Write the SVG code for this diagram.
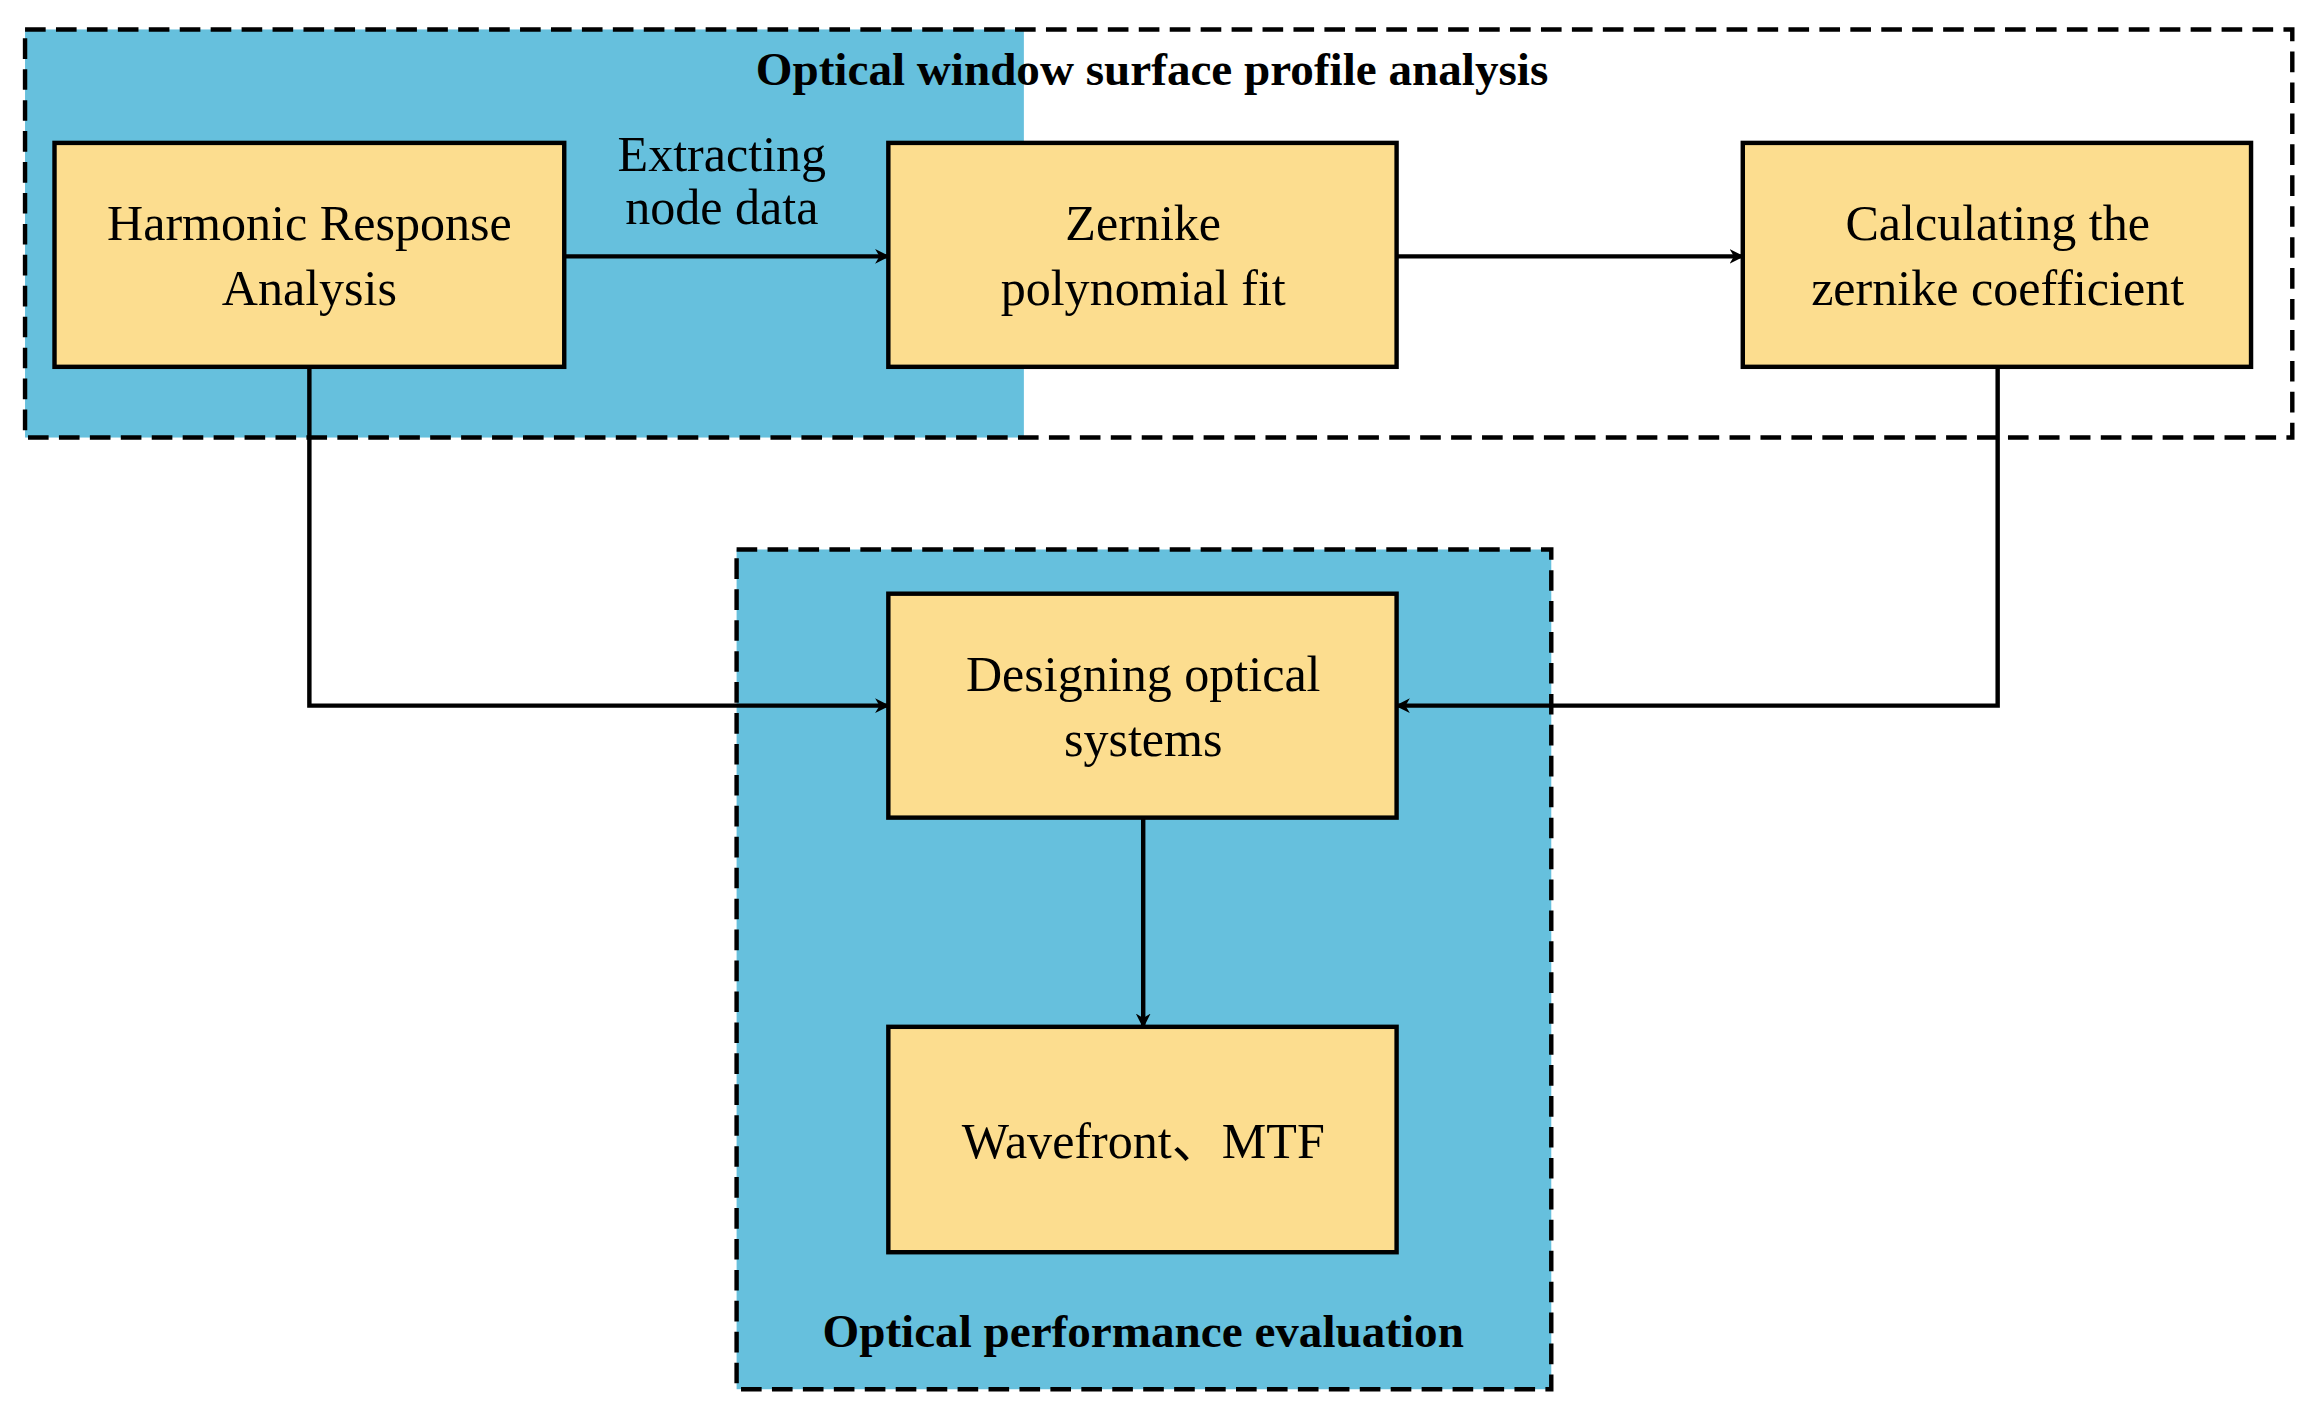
<svg xmlns="http://www.w3.org/2000/svg" width="2310" height="1408" viewBox="0 0 2310 1408">
<defs>
<marker id="ah" markerWidth="10" markerHeight="10" refX="9" refY="5" orient="auto" markerUnits="userSpaceOnUse" viewBox="0 0 10 10"><path d="M0,0 L10,5 L0,10 L3,5 Z" fill="#000"/></marker>
<style>
.box{fill:#FCDD8F;stroke:#000;stroke-width:3}
.grp{stroke:#000;stroke-width:3;stroke-dasharray:14,7}
.t{font-family:"Liberation Serif",serif;font-size:34px;text-anchor:middle;fill:#000}
.h{font-family:"Liberation Serif",serif;font-size:32px;font-weight:bold;text-anchor:middle;fill:#000}
.c{fill:none;stroke:#000;stroke-width:3;marker-end:url(#ah)}
</style>
</defs>
<rect width="2310" height="1408" fill="#fff"/>
<g transform="scale(1.4732)">
<g id="group-top">
<rect x="17" y="20" width="678" height="277" fill="#66C0DD"/>
<rect class="grp" x="17" y="20" width="1539" height="277" fill="none"/>
<text class="h" x="782" y="58">Optical window surface profile analysis</text>
</g>
<g id="group-bottom">
<rect class="grp" x="500" y="373" width="553" height="570" fill="#66C0DD"/>
<text class="h" x="776" y="914">Optical performance evaluation</text>
</g>
<g id="connectors">
<line class="c" x1="383" y1="174" x2="603" y2="174"/>
<line class="c" x1="948" y1="174" x2="1183" y2="174"/>
<polyline class="c" points="210,249 210,479 603,479"/>
<polyline class="c" points="1356,249 1356,479 948,479"/>
<line class="c" x1="776" y1="555" x2="776" y2="697"/>
<text class="t" x="490" y="116">Extracting</text>
<text class="t" x="490" y="152">node data</text>
</g>
<g id="n1"><rect class="box" x="37" y="97" width="346" height="152"/><text class="t" x="210" y="163">Harmonic Response</text><text class="t" x="210" y="207">Analysis</text></g>
<g id="n2"><rect class="box" x="603" y="97" width="345" height="152"/><text class="t" x="776" y="163">Zernike</text><text class="t" x="776" y="207">polynomial fit</text></g>
<g id="n3"><rect class="box" x="1183" y="97" width="345" height="152"/><text class="t" x="1356" y="163">Calculating the</text><text class="t" x="1356" y="207">zernike coefficient</text></g>
<g id="n4"><rect class="box" x="603" y="403" width="345" height="152"/><text class="t" x="776" y="469">Designing optical</text><text class="t" x="776" y="513">systems</text></g>
<g id="n5"><rect class="box" x="603" y="697" width="345" height="153"/><text class="t" x="776" y="786">Wavefront<tspan font-family="Noto Sans CJK SC,sans-serif">、</tspan>MTF</text></g>
</g>
</svg>
